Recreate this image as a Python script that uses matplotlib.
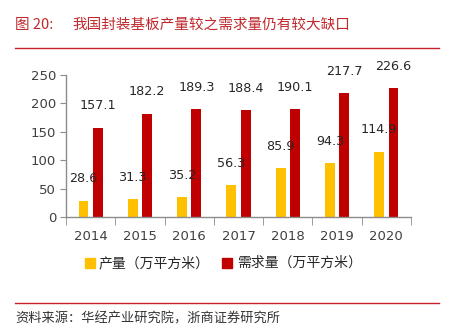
import numpy as np
import matplotlib
matplotlib.use("Agg")
from matplotlib import pyplot as plt
from matplotlib.patches import Rectangle
from matplotlib.lines import Line2D

plt.rcParams['font.family'] = ['Noto Sans CJK SC', 'DejaVu Sans']

# data
years = ['2014', '2015', '2016', '2017', '2018', '2019', '2020']
output_area = [28.6, 31.3, 35.2, 56.3, 85.9, 94.3, 114.9]
demand_area = [157.1, 182.2, 189.3, 188.4, 190.1, 217.7, 226.6]
series_names = ['产量（万平方米）', '需求量（万平方米）']
fig_label = '图 20:'
title_text = '我国封装基板产量较之需求量仍有较大缺口'
source_text = '资料来源：华经产业研究院，浙商证券研究所'

W, H = 457, 333
fig = plt.figure(figsize=(W / 100, H / 100), dpi=100)
fig.patch.set_facecolor('white')

yellow = '#FFC000'
red = '#C00000'
axis_grey = '#8C8C8C'
text_grey = '#404040'

# axes placed to match the pixel layout of the reference
ax = fig.add_axes([66 / W, 1 - 217 / H, (411 - 66) / W, (217 - 75) / H])
x = np.arange(len(years))
width = 0.2
off = 0.145
bars_out = ax.bar(x - off, output_area, width, color=yellow)
bars_dem = ax.bar(x + off, demand_area, width, color=red)

for bars, vals in [(bars_out, output_area), (bars_dem, demand_area)]:
    for b, v in zip(bars, vals):
        ax.annotate(f'{v:.1f}', (b.get_x() + b.get_width() / 2, v),
                    xytext=(0, 11), textcoords='offset points',
                    ha='center', va='bottom', fontsize=9.2,
                    color='#262626', family=['DejaVu Sans'])

ax.set_xlim(-0.5, len(years) - 0.5)
ax.set_ylim(0, 250)
ax.set_yticks(np.arange(0, 251, 50))
ax.set_xticks(x)
ax.set_xticklabels(years)
ax.set_xticks(np.arange(-0.5, len(years), 1), minor=True)
ax.tick_params(axis='x', which='major', length=0, pad=9,
               labelsize=9.5, labelcolor=text_grey)
ax.tick_params(axis='x', which='minor', length=6, color=axis_grey)
ax.tick_params(axis='y', length=4, color=axis_grey, pad=3,
               labelsize=9.5, labelcolor=text_grey)
for lbl in ax.get_xticklabels() + ax.get_yticklabels():
    lbl.set_family(['DejaVu Sans'])
for s in ['top', 'right']:
    ax.spines[s].set_visible(False)
for s in ['left', 'bottom']:
    ax.spines[s].set_color(axis_grey)
    ax.spines[s].set_linewidth(1.0)

# legend drawn in figure pixels
def px(xp, yp):
    return xp / W, 1 - yp / H

sq = 10
for (x0, col), name, tx in zip([(85, yellow), (222, red)], series_names, [99, 237]):
    fig.patches.append(Rectangle(px(x0, 263 + sq / 2), sq / W, sq / H,
                                 color=col, transform=fig.transFigure))
    fig.text(*px(tx, 263), name, fontsize=10, va='center', ha='left',
             color='#262626')

# title, rules and source
fig.text(*px(15, 25), fig_label, fontsize=10.5, color='#C0282D',
         va='center', ha='left')
fig.text(*px(72, 25), title_text, fontsize=10.5, color='#C0282D',
         va='center', ha='left')
fig.lines.append(Line2D([15 / W, 439 / W], [1 - 48 / H, 1 - 48 / H],
                        color='#C8202A', lw=1.0, transform=fig.transFigure))
fig.lines.append(Line2D([15 / W, 439 / W], [1 - 303 / H, 1 - 303 / H],
                        color='#C8202A', lw=1.0, transform=fig.transFigure))
fig.text(*px(15, 319), source_text, fontsize=9.5, color='#333333',
         va='center', ha='left')

fig.savefig('out.png', dpi=100)
